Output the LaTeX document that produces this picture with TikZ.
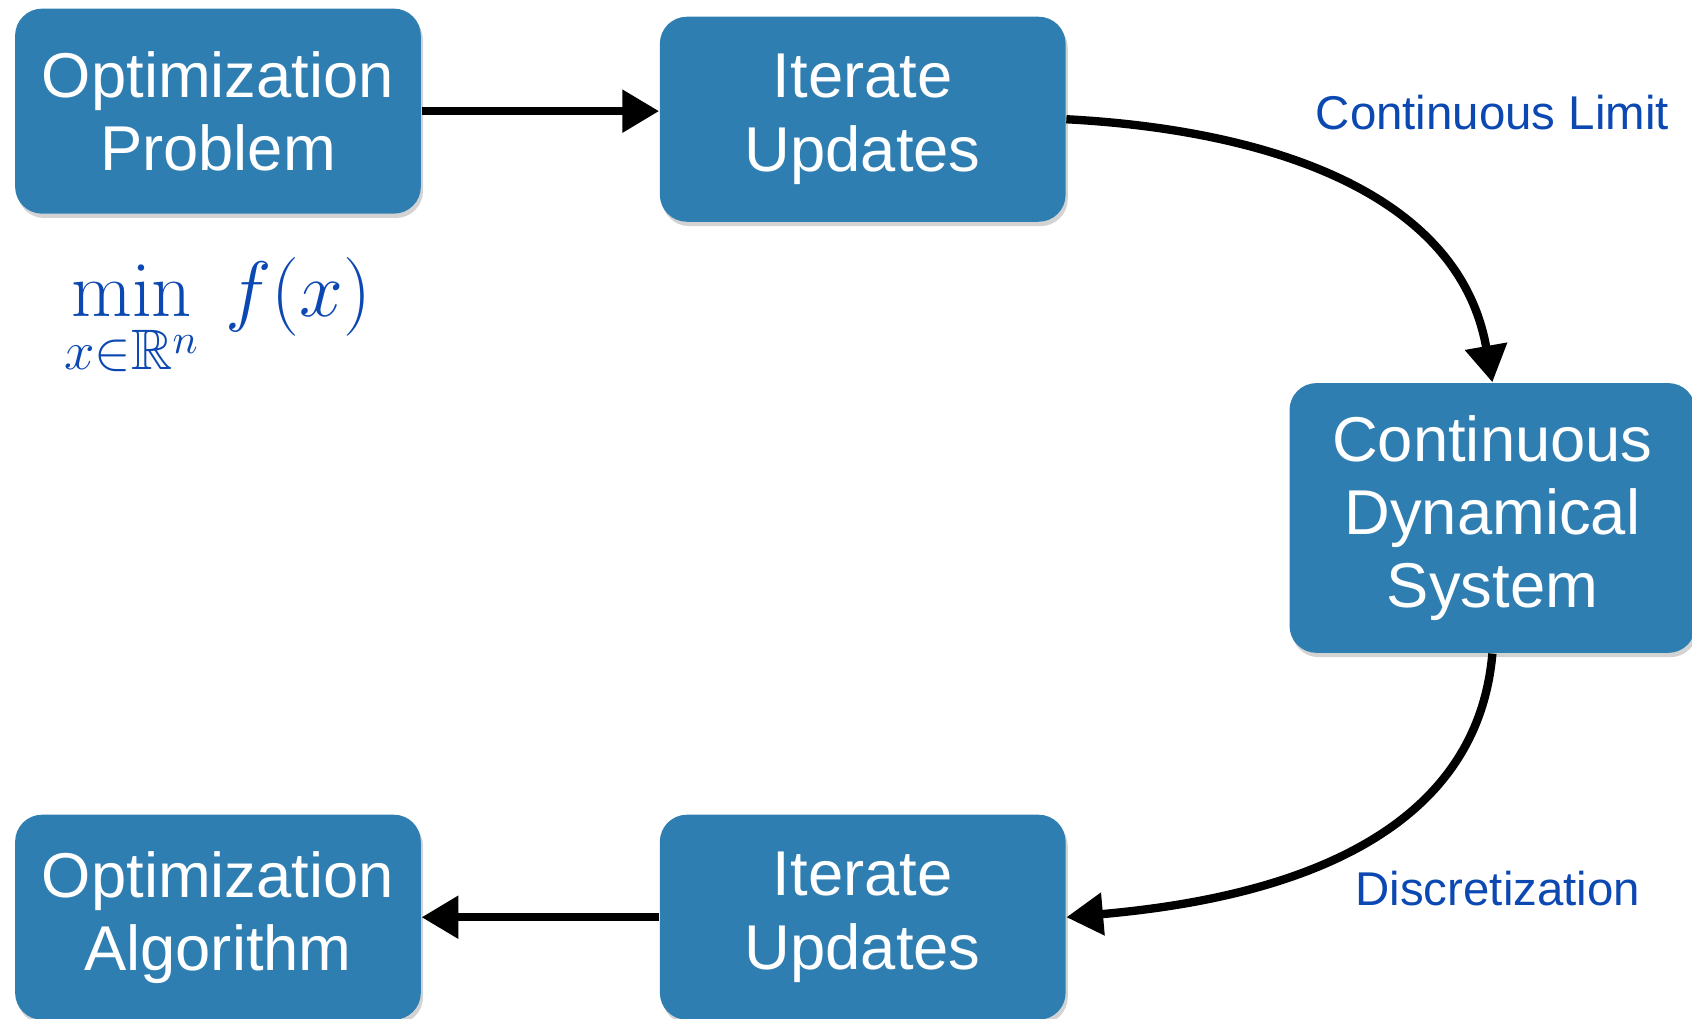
\documentclass[tikz,border=0pt]{standalone}
\usepackage{amsmath}
\usepackage{amssymb}
\usepackage[no-math]{fontspec}
\setmainfont{Liberation Sans}
\usetikzlibrary{arrows.meta, shadows}
\definecolor{boxblue}{RGB}{47,126,178}
\definecolor{labelblue}{RGB}{12,72,178}

\begin{document}
\begin{tikzpicture}[
  stage/.style={rectangle, rounded corners=0.25cm, fill=boxblue, text=white, align=center,
    minimum width=3.76cm, minimum height=1.9cm, inner sep=0pt,
    font=\fontsize{16.7}{19.3}\selectfont,
    drop shadow={shadow xshift=0.02cm, shadow yshift=-0.04cm, opacity=0.35}},
  flow/.style={line width=2.2pt, -{Triangle[length=0.34cm, width=0.38cm]}},
  note/.style={text=labelblue, font=\fontsize{12.5}{15}\selectfont}]
  \useasboundingbox (0, 0) rectangle (15.68, -9.44);

  \node[stage] (problem) at (2.02, -1.03) {Optimization\\Problem};
  \node[stage] (iterup) at (7.995, -1.105) {Iterate\\Updates};
  \node[stage, minimum height=2.5cm] (dynsys) at (13.83, -4.8) {Continuous\\Dynamical\\System};
  \node[stage] (iterdown) at (7.995, -8.5) {Iterate\\Updates};
  \node[stage] (algorithm) at (2.02, -8.5) {Optimization\\Algorithm};

  \node[text=labelblue, font=\fontsize{21.5}{26}\selectfont] (objective) at (2.02, -2.95)
    {$\displaystyle\min_{x\in\mathbb{R}^n}\, f(x)$};
  \node[note] (limit) at (13.83, -1.04) {Continuous Limit};
  \node[note] (discrete) at (13.88, -8.23) {Discretization};

  \draw[flow] (problem.east) -- (problem.east -| iterup.west);
  \draw[flow] (iterup.east) to[out=-3, in=100] (dynsys.north);
  \draw[flow] (dynsys.south) to[out=-95, in=5] (iterdown.east);
  \draw[flow] (iterdown.west) -- (iterdown.west -| algorithm.east);
\end{tikzpicture}
\end{document}
